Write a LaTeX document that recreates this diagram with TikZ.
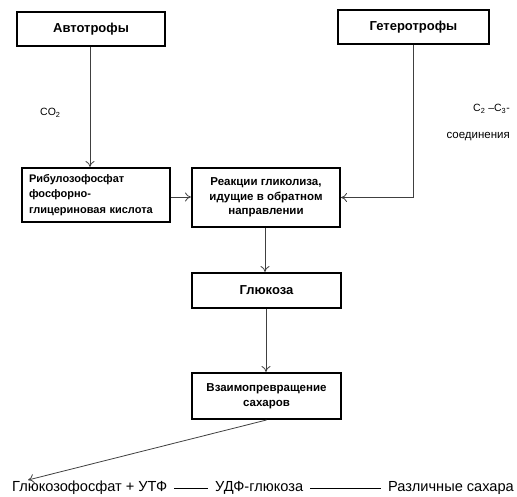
\documentclass[tikz,border=0pt]{standalone}
\usepackage{fontspec}
\setmainfont{Liberation Sans}
\usetikzlibrary{arrows.meta}
\begin{document}
\begin{tikzpicture}[x=1pt,y=-1pt,
  box/.style={draw=black,line width=2pt,rectangle,inner sep=2pt,align=center,font=\bfseries\fontsize{11.5}{14.5}\selectfont},
  arr/.style={draw=black!75,line width=0.8pt,-{To[length=6pt,width=9pt]}},
  plain/.style={draw=black,line width=1pt},
  lbl/.style={inner sep=0pt,font=\fontsize{10.5}{12}\selectfont},
  bot/.style={inner ysep=0pt,inner xsep=7pt,font=\fontsize{14.6}{17}\selectfont}]
\useasboundingbox (0,0) rectangle (517,497);
\node[box,minimum width=148pt,minimum height=34pt,font=\bfseries\fontsize{13}{15}\selectfont] (auto) at (91,29) {Автотрофы};
\node[box,minimum width=151pt,minimum height=34pt,font=\bfseries\fontsize{13}{15}\selectfont] (hetero) at (413.5,27) {Гетеротрофы};
\node[box,minimum width=148pt,minimum height=54pt,align=left,text width=134pt,font=\bfseries\fontsize{11}{15.5}\selectfont] (ribu) at (96,195) {Рибулозофосфат\\фосфорно-\\глицериновая кислота};
\node[box,minimum width=148pt,minimum height=59pt] (react) at (266,197.5) {Реакции гликолиза,\\идущие в обратном\\направлении};
\node[box,minimum width=149pt,minimum height=35pt,font=\bfseries\fontsize{13}{15}\selectfont] (gluc) at (266.5,290.5) {Глюкоза};
\node[box,minimum width=149pt,minimum height=46pt] (vzaim) at (266.5,396) {Взаимопревращение\\сахаров};
\node[lbl,anchor=west] (co2) at (40,113) {CO\textsubscript{2}};
\node[lbl,anchor=east] (c2c3) at (510,109) {C\textsubscript{2} –C\textsubscript{3}-};
\node[lbl,anchor=east,font=\fontsize{11.5}{13}\selectfont] (soed) at (510,137) {соединения};
\node[bot,anchor=west] (gp) at (5,488) {Глюкозофосфат + УТФ};
\node[bot,anchor=west] (udf) at (208,488) {УДФ-глюкоза};
\node[bot,anchor=west] (raz) at (381,488) {Различные сахара};
\coordinate (gpin) at (28,480);
\draw[arr] (auto.south -| 90,0) -- (ribu.north -| 90,0);
\draw[arr] (ribu.east |- 0,197) -- (react.west |- 0,197);
\draw[arr] (hetero.south) |- (react.east);
\draw[arr] (react.south -| 265,0) -- (gluc.north -| 265,0);
\draw[arr] (gluc.south -| 266,0) -- (vzaim.north -| 266,0);
\draw[arr] (vzaim.south) -- (gpin);
\draw[plain] (gp.east) -- (udf.west);
\draw[plain] (udf.east) -- (raz.west);
\end{tikzpicture}
\end{document}
